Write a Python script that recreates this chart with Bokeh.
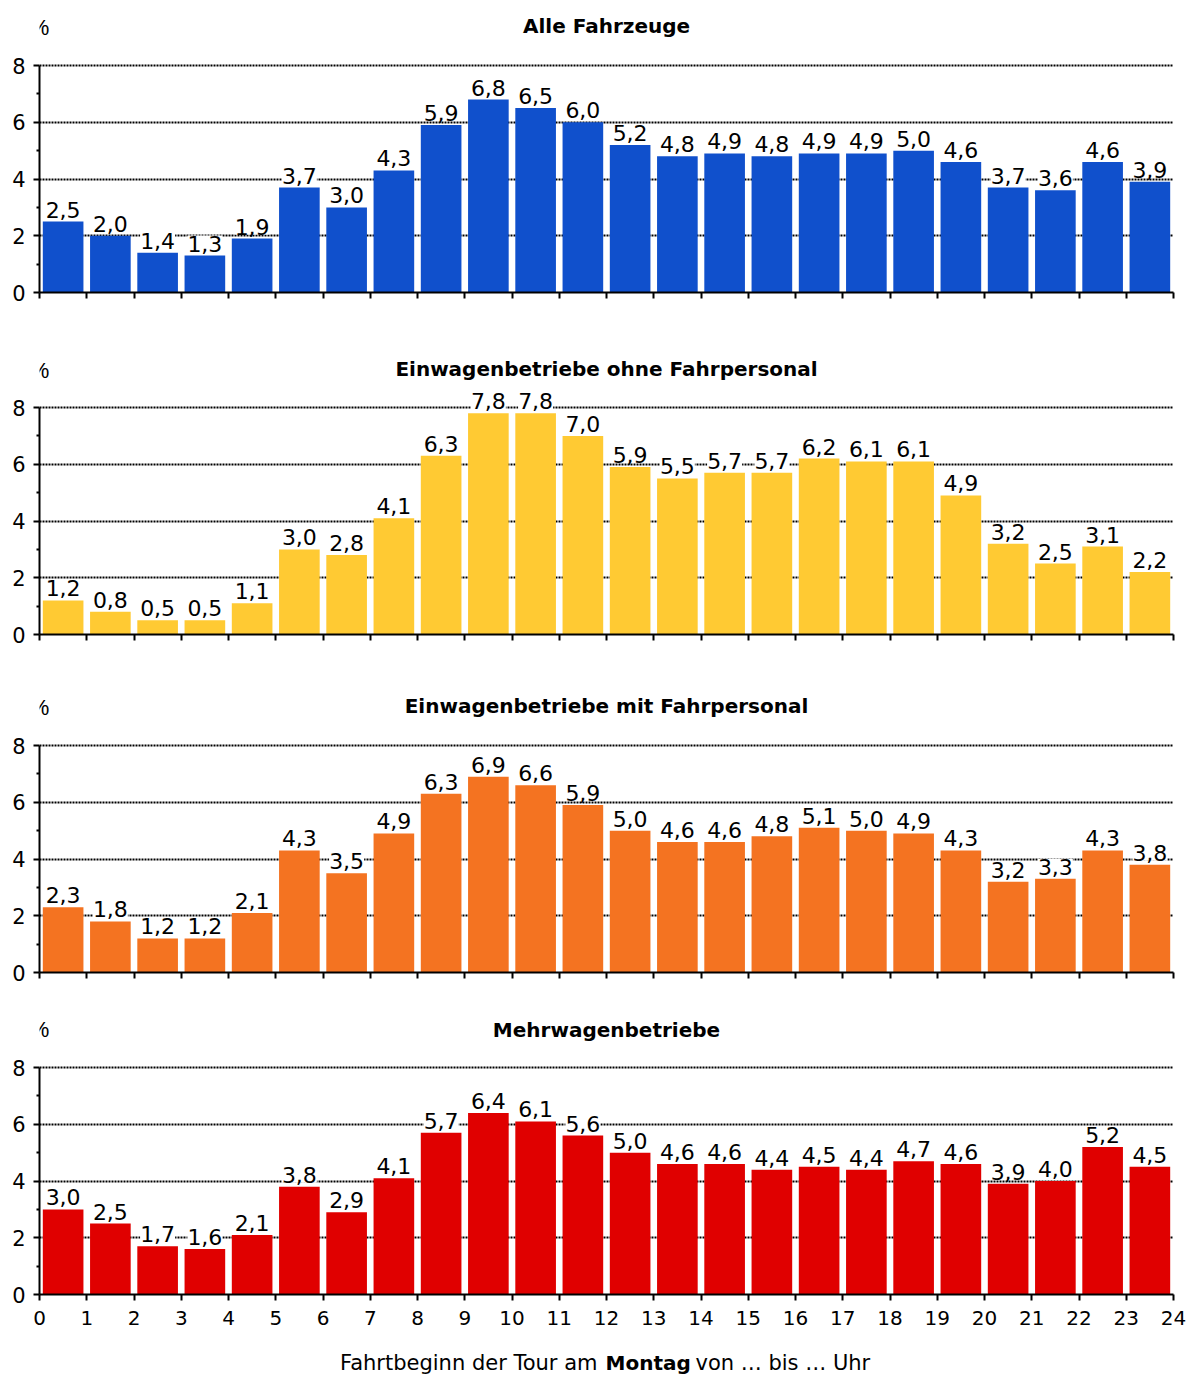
from bokeh.plotting import figure
from bokeh.models import ColumnDataSource, LabelSet, Label, FixedTicker, Range1d
from bokeh.layouts import column
from bokeh.core.properties import value
from bokeh.embed import file_html
from bokeh.resources import INLINE

hours = list(range(24))
tick_hours = list(range(25))

titles = ["Alle Fahrzeuge",
          "Einwagenbetriebe ohne Fahrpersonal",
          "Einwagenbetriebe mit Fahrpersonal",
          "Mehrwagenbetriebe"]

alle = [2.5, 2.0, 1.4, 1.3, 1.9, 3.7, 3.0, 4.3, 5.9, 6.8, 6.5, 6.0,
        5.2, 4.8, 4.9, 4.8, 4.9, 4.9, 5.0, 4.6, 3.7, 3.6, 4.6, 3.9]
ohne = [1.2, 0.8, 0.5, 0.5, 1.1, 3.0, 2.8, 4.1, 6.3, 7.8, 7.8, 7.0,
        5.9, 5.5, 5.7, 5.7, 6.2, 6.1, 6.1, 4.9, 3.2, 2.5, 3.1, 2.2]
mit = [2.3, 1.8, 1.2, 1.2, 2.1, 4.3, 3.5, 4.9, 6.3, 6.9, 6.6, 5.9,
       5.0, 4.6, 4.6, 4.8, 5.1, 5.0, 4.9, 4.3, 3.2, 3.3, 4.3, 3.8]
mehr = [3.0, 2.5, 1.7, 1.6, 2.1, 3.8, 2.9, 4.1, 5.7, 6.4, 6.1, 5.6,
        5.0, 4.6, 4.6, 4.4, 4.5, 4.4, 4.7, 4.6, 3.9, 4.0, 5.2, 4.5]

series = [alle, ohne, mit, mehr]
colors = ["#1050CC", "#FFCA33", "#F47321", "#E00000"]

FONT = "DejaVu Sans"
PX_PER_UNIT = 227 / 8.0
WIDTH = 1188
LEFT = 39
RIGHT = 15

# frame heights (pixels) and bottom borders of the four panels
frame_px = [292, 312, 308, 292]
bottom_px = [30, 30, 30, 44]
title_off = [40, 39, 40, 38]
pct_off = [38, 37, 38, 38]


def fmt(v):
    return f"{v:.1f}".replace(".", ",")


panels = []
for k in range(4):
    last = (k == 3)
    yend = frame_px[k] / PX_PER_UNIT
    p = figure(width=WIDTH, height=frame_px[k] + bottom_px[k],
               x_range=Range1d(0, 24), y_range=Range1d(0, yend),
               output_backend="svg", toolbar_location=None,
               min_border_left=LEFT, min_border_right=RIGHT,
               min_border_top=0, min_border_bottom=bottom_px[k],
               outline_line_color=None, background_fill_color="white",
               border_fill_color="white")
    vals = series[k]
    src = ColumnDataSource(dict(x=[h + 0.5 for h in hours], top=vals,
                                label=[fmt(v) for v in vals]))
    p.vbar(x="x", top="top", bottom=0, width=0.86, source=src,
           fill_color=colors[k], line_color=None)

    p.xgrid.visible = False
    p.ygrid.ticker = FixedTicker(ticks=[2, 4, 6, 8])
    p.ygrid.grid_line_color = "black"
    p.ygrid.grid_line_dash = "2 1"
    p.ygrid.grid_line_width = 2

    ya = p.yaxis[0]
    ya.bounds = (0, 8)
    ya.ticker = FixedTicker(ticks=[0, 2, 4, 6, 8], minor_ticks=[1, 3, 5, 7])
    ya.axis_line_width = 2
    ya.axis_line_color = "black"
    ya.major_tick_in = 0
    ya.major_tick_out = 6
    ya.minor_tick_in = 0
    ya.minor_tick_out = 3
    ya.major_tick_line_width = 2
    ya.minor_tick_line_width = 2
    ya.major_label_standoff = 8
    ya.major_label_text_font = FONT
    ya.major_label_text_font_size = "21px"
    ya.major_label_text_color = "black"

    xa = p.xaxis[0]
    xa.ticker = FixedTicker(ticks=tick_hours)
    xa.axis_line_width = 2
    xa.axis_line_color = "black"
    xa.major_tick_in = 0
    xa.major_tick_out = 6
    xa.major_tick_line_width = 2
    xa.minor_tick_line_color = None
    xa.major_label_text_font = FONT
    xa.major_label_text_color = "black"
    if last:
        xa.major_label_standoff = 10
        xa.major_label_text_font_size = "20px"
    else:
        xa.major_label_standoff = 0
        xa.major_label_text_font_size = "1px"
        xa.major_label_overrides = {i: "" for i in tick_hours}

    labels = LabelSet(x="x", y="top", text="label", source=src,
                      text_align="center", text_baseline="bottom", y_offset=4,
                      text_font=value(FONT), text_font_size=value("22px"),
                      text_color="black", background_fill_color="white")
    p.add_layout(labels)

    p.add_layout(Label(x=12, y=8, y_offset=title_off[k], text=titles[k],
                       text_align="center", text_baseline="middle",
                       text_font=FONT, text_font_style="bold",
                       text_font_size="20px", text_color="black"))
    p.add_layout(Label(x=0, y=8, y_offset=pct_off[k], text="%",
                       text_align="center", text_baseline="middle",
                       text_font="Liberation Sans", text_font_size="22px",
                       text_color="black"))
    panels.append(p)

# caption row with the x-axis title (partly bold)
cap = figure(width=WIDTH, height=38, x_range=Range1d(0, 24), y_range=Range1d(0, 38),
             x_axis_type=None, y_axis_type=None, output_backend="svg",
             toolbar_location=None, min_border_left=LEFT, min_border_right=RIGHT,
             min_border_top=0, min_border_bottom=0, outline_line_color=None,
             background_fill_color="white", border_fill_color="white")
cap.xgrid.visible = False
cap.ygrid.visible = False
common = dict(x=12, y=14, text_baseline="alphabetic", text_font=FONT,
              text_color="black")
cap.add_layout(Label(text="Fahrtbeginn der Tour am", text_align="right",
                     x_offset=-9, text_font_size="21px", **common))
cap.add_layout(Label(text="Montag", text_align="left", x_offset=-1,
                     text_font_style="bold", text_font_size="20px", **common))
cap.add_layout(Label(text="von … bis … Uhr", text_align="left",
                     x_offset=89, text_font_size="21px", **common))

layout = column(*panels, cap, spacing=0)
open("out.html", "w").write(file_html(layout, INLINE))
